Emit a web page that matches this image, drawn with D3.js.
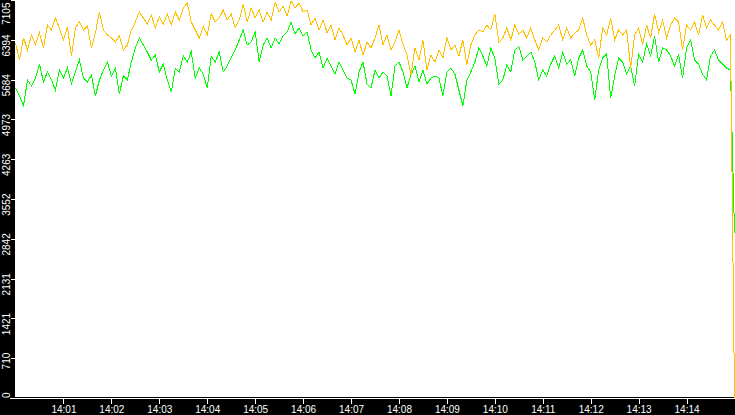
<!DOCTYPE html>
<html>
<head>
<meta charset="utf-8">
<script src="https://cdn.jsdelivr.net/npm/d3@7"></script>
<style>
	html, body { margin: 0; padding: 0; background: #000; overflow: hidden; }
	text { font-family: 'Liberation Sans', Arial, sans-serif; font-size: 10px; fill: #fff; }
</style>
</head>
<body>
<div id="chart"></div>
<script>
// samples every 5 seconds starting 14:00:00
var startTime = '14:00:00';
var stepSeconds = 5;

var yTicks = [0, 710, 1421, 2131, 2842, 3552, 4263, 4973, 5684, 6394, 7105];
var xTicks = ['14:01', '14:02', '14:03', '14:04', '14:05', '14:06', '14:07', '14:08', '14:09', '14:10', '14:11', '14:12', '14:13', '14:14'];

var orangeValues = [
	6337, 6034, 6427, 6213, 6480, 6302, 6516, 6248, 6659, 6569, 6784, 6605, 6391, 6623, 6105, 6605, 6712, 6569, 6641, 6248,
	6516, 6891, 6569, 6480, 6427, 6355, 6462, 6213, 6302, 6569, 6712, 6891, 6784, 6677, 6837, 6605, 6802, 6677, 6855, 6659,
	6891, 6748, 6962, 7051, 6712, 6569, 6427, 6641, 6480, 6855, 6712, 6784, 6926, 6748, 6855, 6605, 6748, 7034, 6712, 6962,
	6784, 6926, 6712, 6891, 6748, 7069, 6891, 6998, 6819, 7087, 6962, 7051, 6891, 6926, 6659, 6784, 6569, 6748, 6516, 6659,
	6391, 6605, 6480, 6302, 6427, 6177, 6391, 6123, 6355, 6248, 6427, 6659, 6302, 6480, 6213, 6355, 6569, 6320, 6123, 5766,
	6248, 6034, 6391, 5855, 6123, 5998, 6213, 6070, 6427, 6213, 6302, 6105, 6391, 5945, 6302, 6480, 6569, 6534, 6659, 6569,
	6855, 6355, 6427, 6605, 6391, 6659, 6498, 6569, 6427, 6605, 6391, 6213, 6427, 6355, 6480, 6569, 6659, 6391, 6605, 6427,
	6516, 6569, 6784, 6480, 6302, 6391, 6070, 6605, 6480, 6784, 6391, 6569, 6480, 6569, 5891, 6480, 6605, 6302, 6659, 6427,
	6855, 6534, 6748, 6427, 6659, 6784, 6712, 6213, 6659, 6569, 6712, 6480, 6837, 6605, 6748, 6659, 6569, 6712, 6391, 6480,
	0
];

var greenValues = [
	5534, 5391, 5213, 5677, 5570, 5712, 5962, 5641, 5820, 5677, 5498, 5855, 5712, 5891, 5605, 5820, 6034, 5712, 5641, 5766,
	5391, 5677, 5855, 5998, 5748, 5891, 5427, 5748, 5677, 5998, 6248, 6427, 6302, 6177, 6034, 6123, 5820, 5962, 5677, 5462,
	5891, 5820, 6105, 5998, 6177, 5712, 5891, 5784, 5534, 6105, 5998, 6177, 5820, 5927, 6070, 6213, 6391, 6569, 6302, 6355,
	6534, 5998, 6302, 6427, 6248, 6427, 6320, 6462, 6534, 6712, 6498, 6605, 6462, 6534, 6213, 6070, 6177, 5891, 6070, 5927,
	5784, 5998, 5855, 5712, 5677, 5427, 5820, 5998, 5605, 5534, 5855, 5712, 5820, 5748, 5391, 5927, 5998, 5820, 5534, 5766,
	5927, 5641, 5855, 5605, 5712, 5748, 5712, 5391, 5820, 5891, 5784, 5498, 5213, 5677, 5820, 5998, 6248, 6105, 5927, 6248,
	6070, 5605, 5677, 5945, 5820, 6213, 6284, 6034, 6105, 6177, 5998, 5677, 5855, 5748, 5962, 6105, 5891, 6177, 5962, 6034,
	5748, 6070, 6213, 5927, 5820, 5320, 5855, 6070, 6141, 5355, 5748, 6070, 5998, 5784, 5927, 5570, 6141, 5998, 6320, 6105,
	6462, 5998, 6248, 6213, 6105, 5927, 6141, 5712, 6248, 6391, 6034, 5962, 5784, 5677, 6105, 6213, 6034, 5962, 5891, 5855,
	2946
];

var width = 735, height = 415;
var plotLeft = 15, plotBottom = 398;
var yMax = 7105;

var parseTime = d3.timeParse('%H:%M:%S');
var parseTick = d3.timeParse('%H:%M');
var t0 = parseTime(startTime);
var t1 = d3.timeMinute.offset(t0, 15);

var x = d3.scaleTime()
	.domain([t0, t1])
	.range([plotLeft + 0.5, width - 0.5]);

var y = d3.scaleLinear()
	.domain([0, yMax])
	.range([plotBottom, 0]);

function timeAt(i) {
	return d3.timeSecond.offset(t0, i * stepSeconds);
}

var svg = d3.select('#chart').append('svg')
	.attr('width', width)
	.attr('height', height)
	.style('display', 'block');

svg.append('rect')
	.attr('x', 0)
	.attr('y', 0)
	.attr('width', width)
	.attr('height', height)
	.attr('fill', '#000');

svg.append('rect')
	.attr('x', plotLeft)
	.attr('y', 0)
	.attr('width', width - plotLeft)
	.attr('height', plotBottom - 1)
	.attr('fill', '#fff');

var line = d3.line()
	.x(function(d, i) { return x(timeAt(i)); })
	.y(function(d) { return y(d); });

svg.append('path')
	.datum(greenValues)
	.attr('d', line)
	.attr('fill', 'none')
	.attr('stroke', '#00ff00')
	.attr('stroke-width', 1)
	.attr('shape-rendering', 'crispEdges');

svg.append('path')
	.datum(orangeValues)
	.attr('d', line)
	.attr('fill', 'none')
	.attr('stroke', '#ffc000')
	.attr('stroke-width', 1)
	.attr('shape-rendering', 'crispEdges');

// bottom axis
svg.append('line')
	.attr('x1', 10)
	.attr('x2', width)
	.attr('y1', plotBottom + 0.5)
	.attr('y2', plotBottom + 0.5)
	.attr('stroke', '#fff')
	.attr('shape-rendering', 'crispEdges');

var xAxis = svg.append('g')
	.attr('transform', 'translate(0,' + (plotBottom + 0.5) + ')')
	.call(d3.axisBottom(x)
		.tickValues(xTicks.map(function(s) { return parseTick(s); }))
		.tickFormat(d3.timeFormat('%H:%M'))
		.tickSize(5));

xAxis.select('.domain').remove();
xAxis.selectAll('line')
	.attr('stroke', '#fff')
	.attr('shape-rendering', 'crispEdges');
xAxis.selectAll('text')
	.attr('y', 14.5)
	.attr('dy', 0)
	.attr('fill', '#fff')
	.style('font-family', "'Liberation Sans', Arial, sans-serif")
	.style('font-size', '10px');

// left axis, labels turned on their side
var yAxis = svg.append('g')
	.attr('transform', 'translate(' + plotLeft + ',0)')
	.call(d3.axisLeft(y)
		.tickValues(yTicks)
		.tickFormat(d3.format('d'))
		.tickSize(4));

yAxis.select('.domain').remove();
yAxis.selectAll('line')
	.attr('stroke', '#fff')
	.attr('shape-rendering', 'crispEdges');
yAxis.selectAll('text')
	.attr('text-anchor', 'end')
	.attr('transform', 'rotate(-90)')
	.attr('x', function(d) { return Math.min(6, y(d) - 2); })
	.attr('y', -5.5)
	.attr('dy', 0)
	.attr('fill', '#fff')
	.style('font-family', "'Liberation Sans', Arial, sans-serif")
	.style('font-size', '10px');
</script>
</body>
</html>
